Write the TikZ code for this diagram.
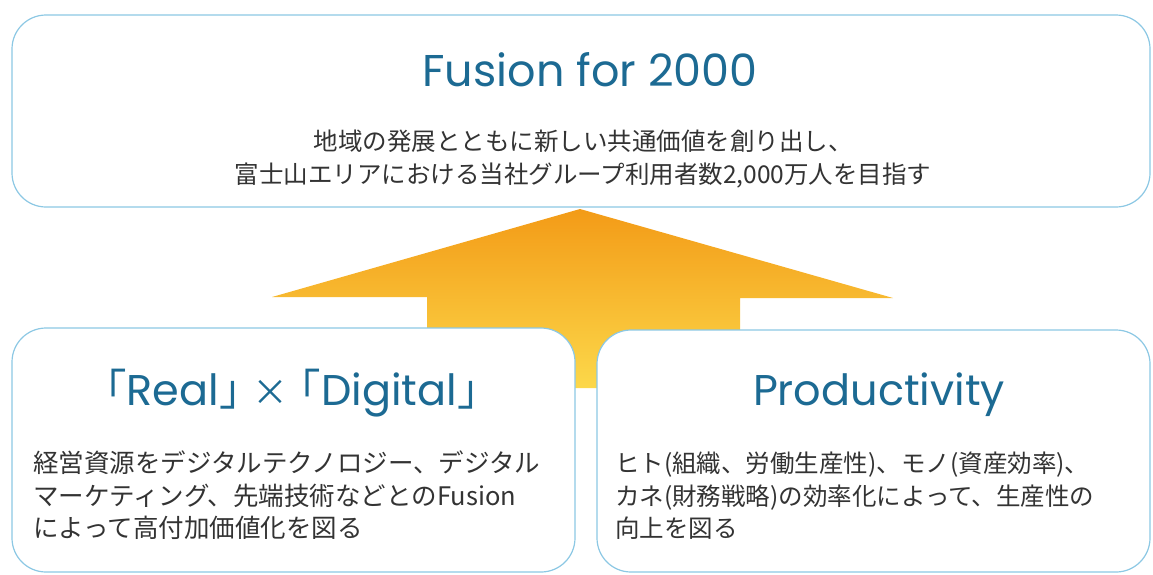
\documentclass[tikz,border=0pt]{standalone}
\usepackage{fontspec}
\setmainfont{Noto Sans CJK JP}
\newfontfamily\cjk{Noto Sans CJK JP}
\newfontfamily\geo{Poppins}
\definecolor{boxline}{HTML}{8CC8E4}
\definecolor{titleblue}{HTML}{1C6A93}
\definecolor{bodytext}{HTML}{333333}
\definecolor{arrowtop}{HTML}{F39B17}
\definecolor{arrowbot}{HTML}{FCD84A}
\tikzset{
  panel/.style={draw=boxline, line width=1.2pt, fill=white, rounded corners=34pt, rectangle, inner sep=0pt},
  titletext/.style={text=titleblue, font=\geo\fontsize{43}{48}\selectfont, inner sep=0pt},
  bodytext/.style={text=bodytext, font=\cjk\fontsize{24.5}{32.5}\selectfont, inner sep=0pt},
  bigarrow/.style={top color=arrowtop, bottom color=arrowbot, draw=none}
}
\begin{document}
\begin{tikzpicture}[x=1pt,y=-1pt]
\useasboundingbox (0,0) rectangle (1153,574);
% arrow (behind panels)
\coordinate (tip) at (580,209);
\coordinate (hr) at (893,298);
\coordinate (sr) at (740,298);
\coordinate (sbr) at (740,388);
\coordinate (sbl) at (427,388);
\coordinate (sl) at (427,297);
\coordinate (hl) at (272,297);
\path[bigarrow] (tip) -- (hr) -- (sr) -- (sbr) -- (sbl) -- (sl) -- (hl) -- cycle;
% panels
\node[panel, minimum width=1138pt, minimum height=192pt] (top) at (581,111) {};
\node[panel, minimum width=563pt, minimum height=244pt] (left) at (293.5,450) {};
\node[panel, minimum width=553pt, minimum height=242pt] (right) at (873.5,451) {};
% texts
\node[titletext, font=\geo\fontsize{44.5}{50}\selectfont] (toptitle) at (590,70) {Fusion for 2000};
\node[bodytext, align=center] (topbody) at (583,159) {地域の発展とともに新しい共通価値を創り出し、\\富士山エリアにおける当社グループ利用者数2,000万人を目指す};
\node[titletext] (lefttitle) at (292,393) {{\cjk ｢}Real{\cjk ｣} {\cjk\fontsize{36}{40}\selectfont ×} {\cjk ｢}Digital{\cjk ｣}};
\node[bodytext, align=left, anchor=north west, font=\cjk\fontsize{25.5}{32.5}\selectfont] (leftbody) at (33,451) {経営資源をデジタルテクノロジー、デジタル\\マーケティング、先端技術などとのFusion\\によって高付加価値化を図る};
\node[titletext] (righttitle) at (879,395) {Productivity};
\node[bodytext, align=left, anchor=north west] (rightbody) at (615,452) {ヒト(組織、労働生産性)、モノ(資産効率)、\\カネ(財務戦略)の効率化によって、生産性の\\向上を図る};
\end{tikzpicture}
\end{document}
